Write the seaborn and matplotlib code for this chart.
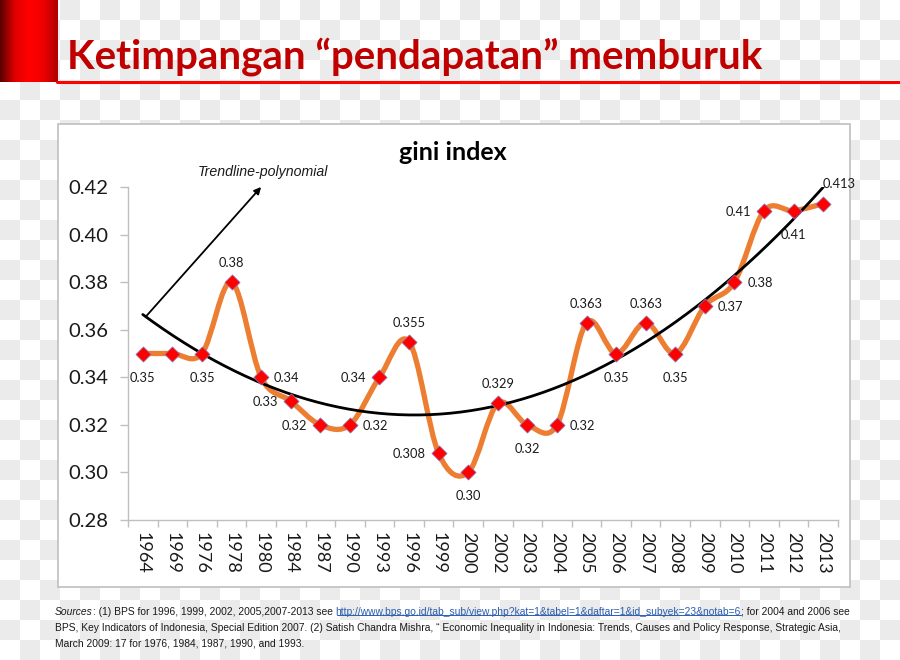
import matplotlib.pyplot as plt
import numpy as np
import pandas as pd
import seaborn as sns
from matplotlib.colors import LinearSegmentedColormap
from matplotlib.lines import Line2D
from matplotlib.patches import PathPatch, Rectangle
from matplotlib.path import Path

# Data
years = ["1964", "1969", "1976", "1978", "1980", "1984", "1987", "1990", "1993", "1996", "1999", "2000",
         "2002", "2003", "2004", "2005", "2006", "2007", "2008", "2009", "2010", "2011", "2012", "2013"]
gini = [0.35, 0.35, 0.35, 0.38, 0.34, 0.33, 0.32, 0.32, 0.34, 0.355, 0.308, 0.30,
        0.329, 0.32, 0.32, 0.363, 0.35, 0.363, 0.35, 0.37, 0.38, 0.41, 0.41, 0.413]
point_labels = ["0.35", "", "0.35", "0.38", "0.34", "0.33", "0.32", "0.32", "0.34", "0.355", "0.308", "0.30",
                "0.329", "0.32", "0.32", "0.363", "0.35", "0.363", "0.35", "0.37", "0.38", "0.41", "0.41", "0.413"]
label_side = ["below", None, "below", "above", "right", "left", "left", "right", "left", "above", "left", "below",
              "above", "below", "right", "above", "below", "above", "below", "right", "right", "left", "below",
              "above_right"]
y_ticks = [0.28, 0.30, 0.32, 0.34, 0.36, 0.38, 0.40, 0.42]

slide_title = "Ketimpangan \u201cpendapatan\u201d memburuk"
chart_title = "gini index"
trend_note = "Trendline-polynomial"
src_link = "http://www.bps.go.id/tab_sub/view.php?kat=1&tabel=1&daftar=1&id_subyek=23&notab=6"
src_line1 = ": (1) BPS for 1996, 1999, 2002, 2005,2007-2013 see "
src_line1_end = "; for 2004 and 2006 see"
src_line2 = ("BPS, Key Indicators of Indonesia, Special Edition 2007. (2) Satish Chandra Mishra, \u201c Economic "
             "Inequality in Indonesia: Trends, Causes and Policy Response, Strategic Asia,")
src_line3 = "March 2009: 17 for 1976, 1984, 1987, 1990, and 1993."

sns.set_style("white")
plt.rcParams["font.family"] = ["Lato", "DejaVu Sans"]

df = pd.DataFrame({"year": years, "gini": gini})
df["pos"] = np.arange(len(df))

W, H = 900, 660
fig = plt.figure(figsize=(9, 6.6), dpi=100)


def fx(px):
    return px / W


def fy(py):
    return 1 - py / H


# transparency checkerboard behind the slide
rr, cc = np.indices((H, W))
odd = ((rr // 20 + cc // 20) % 2) == 1
bg = np.where(odd[..., None], 235 / 255, 1.0) * np.ones(3)
fig.figimage(bg, 0, 0, zorder=-20)

# red bar + rule at the top
ax_bar = fig.add_axes([0, fy(82), fx(57), 82 / H])
bar_cmap = LinearSegmentedColormap.from_list("bar", ["#5c0000", "#e00000", "#ff0000", "#f00000", "#b00000"])
ax_bar.imshow(np.linspace(0, 1, 64)[None, :], aspect="auto", cmap=bar_cmap)
ax_bar.axis("off")
fig.add_artist(Line2D([fx(57), 1], [fy(82), fy(82)], color="#ff0000", lw=2.2))
fig.text(fx(67), fy(68), slide_title, fontsize=29, fontweight="bold", color="#c00000", va="baseline")

# chart area box
fig.add_artist(Rectangle((fx(58), fy(587)), fx(850 - 58), (587 - 124) / H, transform=fig.transFigure,
                         facecolor="white", edgecolor="#bfbfbf", lw=1.2, zorder=-5))

ax = fig.add_axes([fx(128), fy(520), fx(838 - 128), (520 - 187) / H])
ax.patch.set_alpha(0)

# smoothed series line (Catmull-Rom style bezier, like Excel's smoothed line)
pts = df[["pos", "gini"]].to_numpy(dtype=float)
ext = np.vstack([pts[:1], pts, pts[-1:]])
verts = [tuple(pts[0])]
codes = [Path.MOVETO]
for i in range(len(pts) - 1):
    p0, p1, p2, p3 = ext[i], ext[i + 1], ext[i + 2], ext[i + 3]
    verts += [tuple(p1 + (p2 - p0) / 6), tuple(p2 - (p3 - p1) / 6), tuple(p2)]
    codes += [Path.CURVE4] * 3
ax.add_patch(PathPatch(Path(verts, codes), fill=False, edgecolor="#ed7d31", lw=3.8,
                       capstyle="round", joinstyle="round", zorder=2))

# polynomial trendline (order 2)
coef = np.polyfit(df["pos"], df["gini"], 2)
xs = np.linspace(0, len(df) - 1, 200)
sns.lineplot(x=xs, y=np.polyval(coef, xs), color="black", lw=2, ax=ax, zorder=3)

sns.scatterplot(data=df, x="pos", y="gini", marker="D", s=60, color="#ff0000",
                edgecolor="#8a7fc0", linewidth=0.5, ax=ax, zorder=4)

# data labels
px2pt = 0.72
offsets = {"above": (0, 20, "center"), "below": (0, -23, "center"), "left": (-13, 0, "right"),
           "right": (13, 0, "left"), "above_right": (16, 21, "center")}
for p, v, lab, side in zip(df["pos"], df["gini"], point_labels, label_side):
    if not side:
        continue
    dx, dy, ha = offsets[side]
    ax.annotate(lab, (p, v), xytext=(dx * px2pt, dy * px2pt), textcoords="offset points",
                ha=ha, va="center_baseline", fontsize=9.3, color="#1a1a1a", zorder=5)

# trendline note with arrow
ax.annotate("", xy=(4.0, 0.42), xytext=(0.1, np.polyval(coef, 0.1)),
            arrowprops=dict(arrowstyle="-|>", color="black", lw=1.3, mutation_scale=10, shrinkA=0, shrinkB=0))
ax.text(4.05, 0.4263, trend_note, ha="center", va="center", fontsize=10.2, style="italic",
        family=["Liberation Sans", "DejaVu Sans"], color="#1a1a1a")

ax.set_xlim(-0.5, len(df) - 0.5)
ax.set_ylim(0.28, 0.42)
ax.set_yticks(y_ticks)
ax.set_yticklabels([f"{t:.2f}" for t in y_ticks], fontsize=14.6, color="#1a1a1a")
ax.set_xticks(df["pos"])
ax.set_xticklabels(years, rotation=-90, fontsize=13, color="#1a1a1a")
ax.set_xticks(np.arange(-0.5, len(df)), minor=True)
ax.tick_params(axis="x", which="major", bottom=True, length=0, pad=8.5)
ax.tick_params(axis="x", which="minor", bottom=True, length=5, width=1, color="#bfbfbf", direction="out")
ax.tick_params(axis="y", which="major", left=True, length=6, width=1, color="#bfbfbf", direction="out", pad=8)
ax.set_xlabel("")
ax.set_ylabel("")
sns.despine(ax=ax)
for s in ["left", "bottom"]:
    ax.spines[s].set_color("#bfbfbf")
    ax.spines[s].set_linewidth(1)

fig.text(fx(453), fy(153), chart_title, ha="center", va="center", fontsize=18, fontweight="bold", color="black")

# sources footnote
src_kw = dict(fontsize=7.35, family=["Liberation Sans Narrow", "Liberation Sans", "DejaVu Sans"], color="#1a1a1a")
t0 = fig.text(fx(55), fy(615), "Sources", style="italic", va="baseline", **src_kw)
t1 = ax.annotate(src_line1, xy=(1, 0), xycoords=t0, va="bottom", ha="left", annotation_clip=False, **src_kw)
link_kw = dict(src_kw, color="#2a5db0")
t2 = ax.annotate(src_link, xy=(1, 0), xycoords=t1, va="bottom", ha="left", annotation_clip=False, **link_kw)
ax.annotate(src_line1_end, xy=(1, 0), xycoords=t2, va="bottom", ha="left", annotation_clip=False, **src_kw)
fig.text(fx(55), fy(631), src_line2, va="baseline", **src_kw)
fig.text(fx(55), fy(646), src_line3, va="baseline", **src_kw)

fig.canvas.draw()
bb = t2.get_window_extent().transformed(fig.transFigure.inverted())
fig.add_artist(Line2D([bb.x0 + 1.5 / W, bb.x1], [bb.y0 + 2.2 / H, bb.y0 + 2.2 / H], color="#2a5db0", lw=0.7))

fig.savefig("out.png", dpi=100)
